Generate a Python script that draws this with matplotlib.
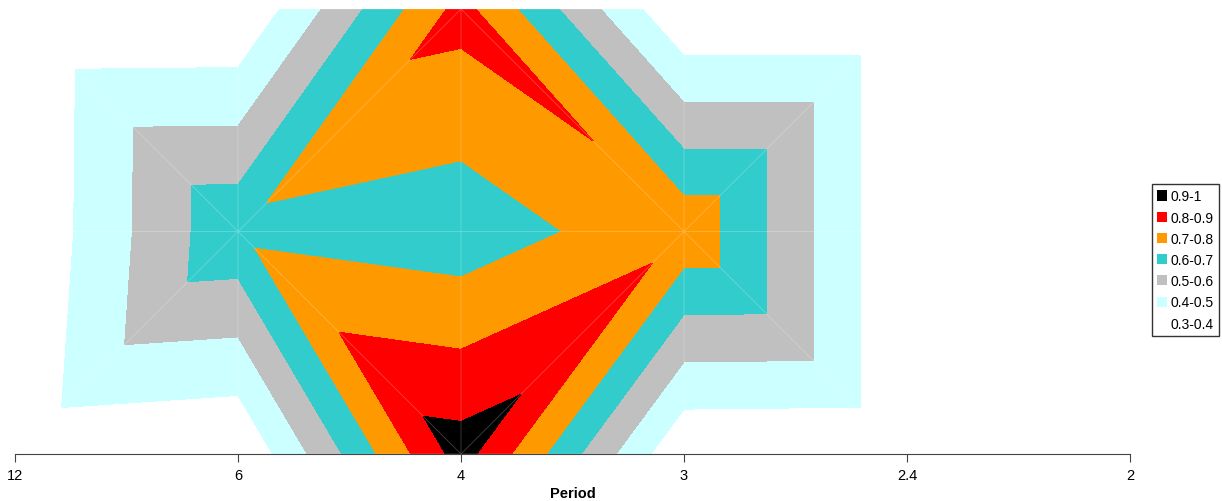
import matplotlib
matplotlib.use("Agg")
import matplotlib.pyplot as plt
import matplotlib.tri as mtri
from matplotlib.patches import Patch
import numpy as np

plt.rcParams["font.family"] = ["Liberation Sans", "DejaVu Sans"]

# grid of periods (x) and three rows (bottom, middle, top)
periods = [12, 6, 4, 3, 2.4, 2]
rows = [0, 1, 2]

# values at the grid nodes, one list per row, bottom row first
z_bottom = [0.326, 0.30, 0.945, 0.305, 0.30, 0.30]
z_middle = [0.300, 0.68, 0.637, 0.776, 0.30, 0.30]
z_top = [0.296, 0.30, 0.835, 0.300, 0.30, 0.30]

levels = [0.3, 0.4, 0.5, 0.6, 0.7, 0.8, 0.9, 1.0]
level_labels = ["0.3-0.4", "0.4-0.5", "0.5-0.6", "0.6-0.7", "0.7-0.8", "0.8-0.9", "0.9-1"]
level_colors = ["#FFFFFF", "#CCFFFF", "#C0C0C0", "#33CCCC", "#FF9900", "#FF0000", "#000000"]

# build the node arrays (x in frequency = 1/period)
freq = [1.0 / p for p in periods]
ncol = len(periods)
xs, ys, zs = [], [], []
for r, zrow in zip(rows, [z_bottom, z_middle, z_top]):
    for c in range(ncol):
        xs.append(freq[c])
        ys.append(r)
        zs.append(zrow[c])

# split every cell in two, diagonals alternating ("union jack" mesh)
def node(c, r):
    return r * ncol + c

triangles = []
for r in range(len(rows) - 1):
    for c in range(ncol - 1):
        a, b = node(c, r), node(c + 1, r)
        cc, d = node(c + 1, r + 1), node(c, r + 1)
        if (c + r) % 2 == 0:
            triangles += [[a, b, cc], [a, cc, d]]
        else:
            triangles += [[a, b, d], [b, cc, d]]

tri = mtri.Triangulation(xs, ys, triangles)

fig = plt.figure(figsize=(12.22, 5.02), dpi=100)
ax = fig.add_axes([15 / 1222, 47 / 502, 1115 / 1222, 445 / 502])

ax.tricontourf(tri, zs, levels=levels, colors=level_colors, antialiased=False)
# faint seams along the mesh edges, as in the original rendering
ax.triplot(tri, color="white", alpha=0.25, lw=0.6)

ax.set_xlim(freq[0], freq[-1])
ax.set_ylim(rows[0], rows[-1])
ax.set_xticks(freq)
ax.set_xticklabels([str(p) for p in periods], fontsize=10.5)
ax.set_yticks([])
ax.set_xlabel("Period", fontsize=10.5, fontweight="bold", labelpad=3)
for side in ["top", "left", "right"]:
    ax.spines[side].set_visible(False)
ax.spines["bottom"].set_color("#444444")
ax.tick_params(axis="x", colors="#444444", labelcolor="black", length=6, pad=4)

handles = []
for lab, col in zip(level_labels[::-1], level_colors[::-1]):
    handles.append(Patch(facecolor=col, edgecolor="none", label=lab))
leg = fig.legend(handles=handles, loc="center left",
                 bbox_to_anchor=(1152 / 1222, 1 - 261 / 502),
                 fontsize=10, frameon=True, fancybox=False, edgecolor="black",
                 handlelength=0.75, handleheight=0.75, handletextpad=0.25,
                 borderpad=0.35, labelspacing=0.52, borderaxespad=0)
leg.get_frame().set_linewidth(1.0)

fig.savefig("out.png", dpi=100)
